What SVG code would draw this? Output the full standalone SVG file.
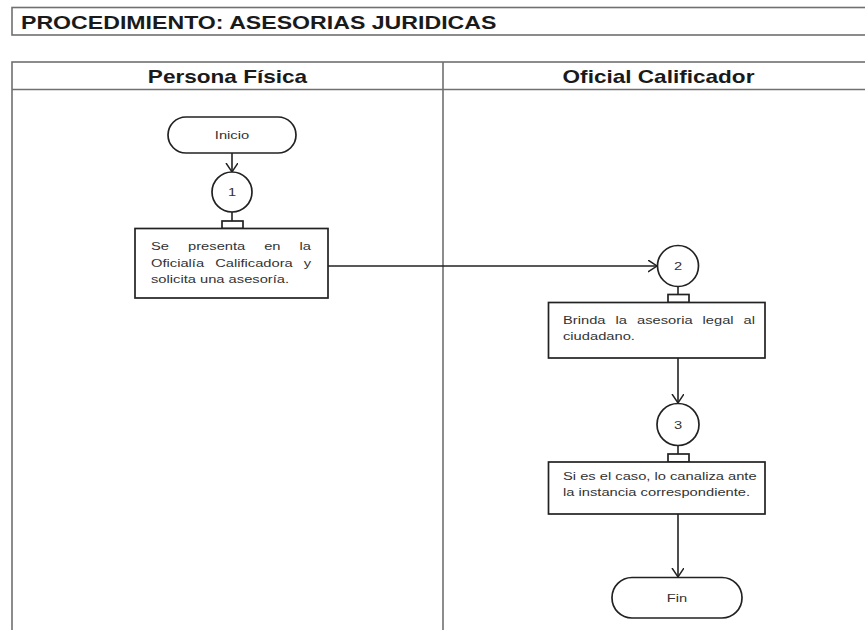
<svg xmlns="http://www.w3.org/2000/svg" width="865" height="630" viewBox="0 0 865 630">
<defs>
<style>
.frame{fill:none;stroke:#707070;stroke-width:1.6}
.shape{fill:#fff;stroke:#222;stroke-width:1.7}
.conn{fill:none;stroke:#222;stroke-width:1.6}
.title{font-family:"Liberation Sans",Arial,sans-serif;font-weight:bold;font-size:18px;fill:#1a1a1a}
.head{font-family:"Liberation Sans",Arial,sans-serif;font-weight:bold;font-size:17.5px;fill:#1a1a1a}
.t{font-family:"Liberation Sans",Arial,sans-serif;font-size:11.5px;fill:#333}
</style>
<marker id="arr" markerUnits="userSpaceOnUse" markerWidth="12" markerHeight="14" refX="9" refY="6" orient="auto">
<path d="M0,0 L9,6 L0,12" fill="none" stroke="#222" stroke-width="1.5"/>
</marker>
</defs>
<rect width="865" height="630" fill="#fff"/>

<g id="title">
<rect class="frame" x="12" y="7.5" width="870" height="27.5"/>
<text class="title" transform="translate(21,28.5) scale(1.285,1)">PROCEDIMIENTO: ASESORIAS JURIDICAS</text>
</g>

<g id="lanes">
<rect class="frame" x="12" y="62" width="870" height="600"/>
<line class="frame" x1="12" y1="89.5" x2="882" y2="89.5"/>
<line class="frame" x1="443" y1="62" x2="443" y2="640"/>
<text class="head" text-anchor="middle" transform="translate(227.5,82.5) scale(1.29,1)">Persona Física</text>
<text class="head" text-anchor="middle" transform="translate(658.5,82.5) scale(1.29,1)">Oficial Calificador</text>
</g>

<g id="connectors">
<line class="conn" x1="232" y1="153" x2="232" y2="172" marker-end="url(#arr)"/>
<line class="conn" x1="328" y1="266" x2="657" y2="266" marker-end="url(#arr)"/>
<line class="conn" x1="678" y1="358" x2="678" y2="403" marker-end="url(#arr)"/>
<line class="conn" x1="678" y1="514" x2="678" y2="577" marker-end="url(#arr)"/>
</g>

<g id="inicio">
<rect class="shape" x="168" y="117" width="128" height="36" rx="18"/>
<text class="t" text-anchor="middle" transform="translate(232,139) scale(1.28,1)">Inicio</text>
</g>

<g id="c1">
<line class="conn" x1="232" y1="212" x2="232" y2="221"/>
<rect class="shape" x="222" y="221" width="21" height="7.5"/>
<circle class="shape" cx="232" cy="192" r="20"/>
<text class="t" text-anchor="middle" transform="translate(232,196) scale(1.28,1)">1</text>
</g>

<g id="box1">
<rect class="shape" x="135" y="228.5" width="193" height="69.5"/>
<text class="t" transform="translate(151,250) scale(1.28,1)"><tspan x="0">Se</tspan><tspan x="28.96">presenta</tspan><tspan x="88.41">en</tspan><tspan x="116.1">la</tspan></text>
<text class="t" transform="translate(151,267) scale(1.28,1)"><tspan x="0">Oficialía</tspan><tspan x="50.11">Calificadora</tspan><tspan x="119.28">y</tspan></text>
<text class="t" transform="translate(151,283) scale(1.28,1)">solicita una asesoría.</text>
</g>

<g id="c2">
<line class="conn" x1="678" y1="286" x2="678" y2="294.5"/>
<rect class="shape" x="668" y="294.5" width="21" height="8"/>
<circle class="shape" cx="678" cy="266" r="20.5"/>
<text class="t" text-anchor="middle" transform="translate(678,270) scale(1.28,1)">2</text>
</g>

<g id="box2">
<rect class="shape" x="548.5" y="302.5" width="216.5" height="55.5"/>
<text class="t" transform="translate(563,324) scale(1.28,1)"><tspan x="0">Brinda</tspan><tspan x="41.0">la</tspan><tspan x="57.86">asesoria</tspan><tspan x="109.02">legal</tspan><tspan x="141.08">al</tspan></text>
<text class="t" transform="translate(563,340) scale(1.28,1)">ciudadano.</text>
</g>

<g id="c3">
<line class="conn" x1="678" y1="445" x2="678" y2="454"/>
<rect class="shape" x="668" y="454" width="21" height="8"/>
<circle class="shape" cx="678" cy="424.5" r="21"/>
<text class="t" text-anchor="middle" transform="translate(678,428.5) scale(1.28,1)">3</text>
</g>

<g id="box3">
<rect class="shape" x="548.5" y="462" width="216.5" height="52"/>
<text class="t" transform="translate(563,480) scale(1.28,1)">Si es el caso, lo canaliza ante</text>
<text class="t" transform="translate(563,496) scale(1.28,1)">la instancia correspondiente.</text>
</g>

<g id="fin">
<rect class="shape" x="612" y="577.5" width="130" height="40.5" rx="20"/>
<text class="t" text-anchor="middle" transform="translate(677,601.5) scale(1.28,1)">Fin</text>
</g>
</svg>
